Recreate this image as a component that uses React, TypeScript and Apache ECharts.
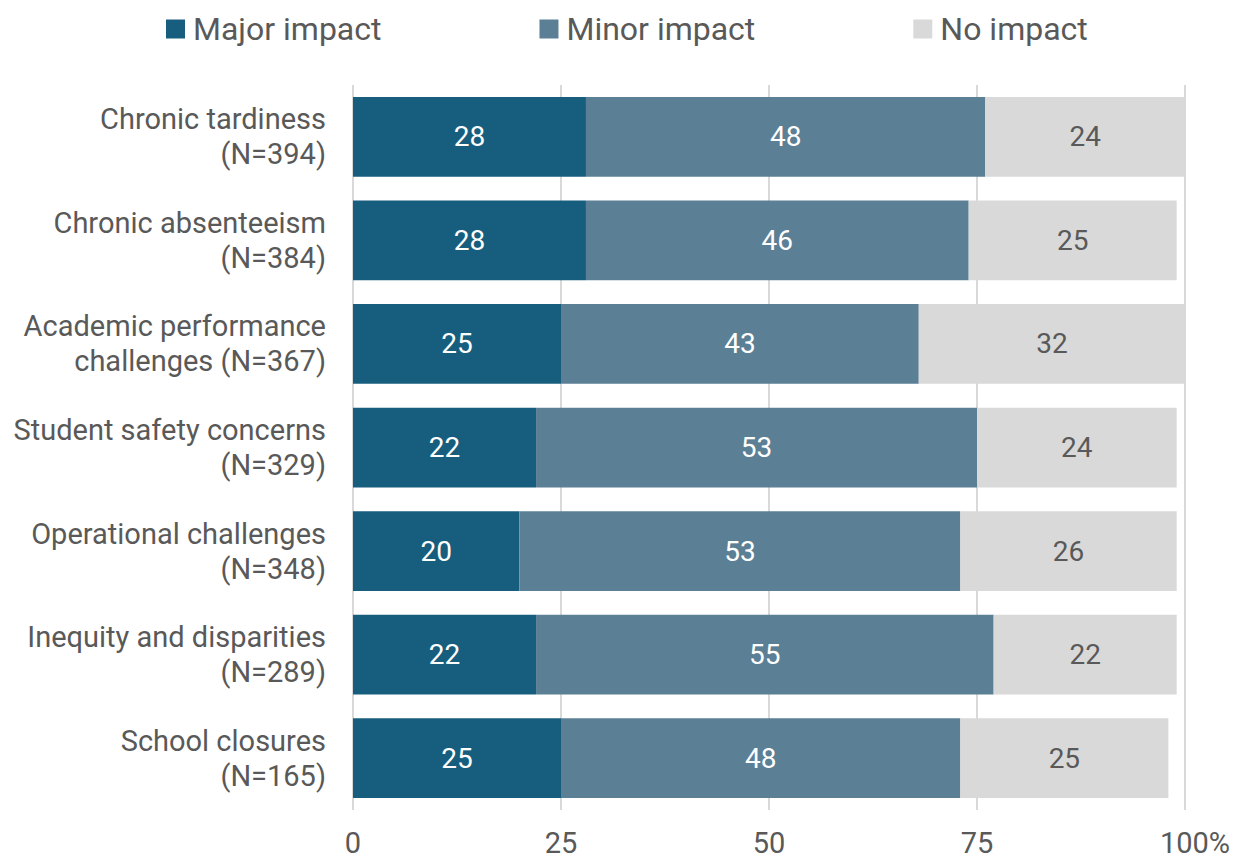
import React, { useEffect, useRef } from "react";
import * as echarts from "echarts";

const categories = [
  "Chronic tardiness\n(N=394)",
  "Chronic absenteeism\n(N=384)",
  "Academic performance\nchallenges (N=367)",
  "Student safety concerns\n(N=329)",
  "Operational challenges\n(N=348)",
  "Inequity and disparities\n(N=289)",
  "School closures\n(N=165)",
];
const majorImpact = [28, 28, 25, 22, 20, 22, 25];
const minorImpact = [48, 46, 43, 53, 53, 55, 48];
const noImpact = [24, 25, 32, 24, 26, 22, 25];

const FONT = "Roboto";
const GREY = "#595959";

export default function App() {
  const ref = useRef<HTMLDivElement>(null);
  useEffect(() => {
    if (!ref.current) return;
    const chart = echarts.init(ref.current, undefined, { renderer: "svg" });
    const mkSeries = (name: string, data: number[], color: string, labelColor: string) => ({
      name,
      type: "bar",
      stack: "total",
      data,
      barWidth: "77%",
      itemStyle: { color },
      label: {
        show: true,
        position: "inside",
        color: labelColor,
        fontFamily: FONT,
        fontSize: 28,
      },
    });
    chart.setOption({
      animation: false,
      textStyle: { fontFamily: FONT },
      legend: {
        top: 8,
        left: 161,
        itemGap: 158,
        itemWidth: 19,
        itemHeight: 19,
        icon: "rect",
        textStyle: { fontFamily: FONT, fontSize: 32, color: GREY, padding: [0, 0, 0, 3] },
        data: ["Major impact", "Minor impact", "No impact"],
      },
      grid: { left: 353, right: 51, top: 85, bottom: 48, containLabel: false },
      xAxis: {
        type: "value",
        min: 0,
        max: 100,
        interval: 25,
        axisLine: { show: false },
        axisTick: { show: false },
        splitLine: { show: true, lineStyle: { color: "#D9D9D9", width: 2 } },
        axisLabel: {
          fontFamily: FONT,
          fontSize: 29,
          color: GREY,
          margin: 18,
          formatter: (v: number) => (v === 100 ? "{p|100%}" : String(v)),
          rich: { p: { fontFamily: FONT, fontSize: 29, color: GREY, padding: [0, 0, 0, 20] } },
        },
      },
      yAxis: {
        type: "category",
        data: categories,
        inverse: true,
        axisLine: { show: false },
        axisTick: { show: false },
        axisLabel: {
          fontFamily: FONT,
          fontSize: 29,
          color: GREY,
          lineHeight: 35,
          margin: 27,
          align: "right",
        },
      },
      series: [
        mkSeries("Major impact", majorImpact, "#175E7E", "#FFFFFF"),
        mkSeries("Minor impact", minorImpact, "#5B7F95", "#FFFFFF"),
        mkSeries("No impact", noImpact, "#D9D9D9", GREY),
      ],
    });
    return () => chart.dispose();
  }, []);
  return (
    <div
      ref={ref}
      style={{ position: "absolute", left: 0, top: 0, width: 1236, height: 858 }}
    />
  );
}
